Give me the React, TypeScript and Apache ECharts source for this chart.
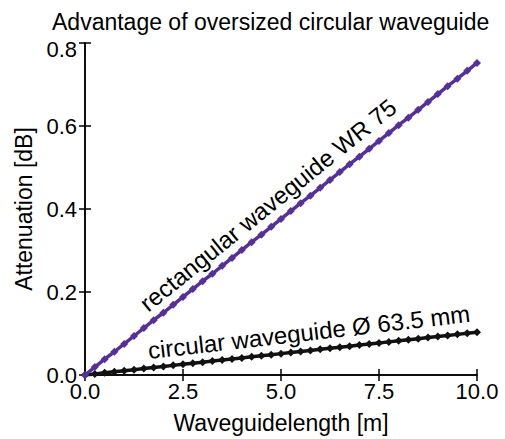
import React, { useEffect, useRef } from "react";
import * as echarts from "echarts";

const lengths = [0, 0.25, 0.5, 0.75, 1, 1.25, 1.5, 1.75, 2, 2.25, 2.5, 2.75, 3, 3.25, 3.5, 3.75, 4, 4.25, 4.5, 4.75, 5, 5.25, 5.5, 5.75, 6, 6.25, 6.5, 6.75, 7, 7.25, 7.5, 7.75, 8, 8.25, 8.5, 8.75, 9, 9.25, 9.5, 9.75, 10];
const rectangularWR75 = [0, 0.019, 0.038, 0.056, 0.075, 0.094, 0.113, 0.132, 0.150, 0.169, 0.188, 0.207, 0.226, 0.244, 0.263, 0.282, 0.301, 0.320, 0.338, 0.357, 0.376, 0.395, 0.414, 0.432, 0.451, 0.470, 0.489, 0.508, 0.526, 0.545, 0.564, 0.583, 0.602, 0.620, 0.639, 0.658, 0.677, 0.696, 0.714, 0.733, 0.752];
const circular635 = [0, 0.0026, 0.0052, 0.0077, 0.0103, 0.0129, 0.0155, 0.0180, 0.0206, 0.0232, 0.0258, 0.0283, 0.0309, 0.0335, 0.0361, 0.0386, 0.0412, 0.0438, 0.0464, 0.0489, 0.0515, 0.0541, 0.0567, 0.0592, 0.0618, 0.0644, 0.0670, 0.0695, 0.0721, 0.0747, 0.0773, 0.0798, 0.0824, 0.0850, 0.0876, 0.0901, 0.0927, 0.0953, 0.0979, 0.1004, 0.1030];

const titleText = "Advantage of oversized circular waveguide";
const xName = "Waveguidelength [m]";
const yName = "Attenuation [dB]";
const rectLabel = "rectangular waveguide WR 75";
const circLabel = "circular waveguide Ø 63.5 mm";

const FONT = "'Liberation Sans', Arial, Helvetica, sans-serif";

export default function App() {
  const ref = useRef<HTMLDivElement>(null);
  useEffect(() => {
    if (!ref.current) return;
    const chart = echarts.init(ref.current, null, { renderer: "svg" });
    const axisLine = { show: true, lineStyle: { color: "#000", width: 1.5 } };
    const tick = { show: true, inside: true, length: 6, lineStyle: { color: "#000", width: 1.5 } };
    chart.setOption({
      animation: false,
      backgroundColor: "#fff",
      textStyle: { fontFamily: FONT },
      title: {
        text: titleText,
        left: 47,
        top: 5,
        textStyle: { fontFamily: FONT, fontSize: 23, fontWeight: "normal", color: "#000" },
      },
      grid: { left: 85, right: 28, top: 43, bottom: 61 },
      xAxis: [
        {
          type: "value",
          min: 0,
          max: 10,
          interval: 2.5,
          name: xName,
          nameLocation: "middle",
          nameGap: 36,
          nameTextStyle: { fontFamily: FONT, fontSize: 23, color: "#000" },
          axisLine,
          axisTick: tick,
          splitLine: { show: false },
          axisLabel: {
            fontFamily: FONT,
            fontSize: 22,
            color: "#000",
            margin: 5,
            formatter: (v: number) => v.toFixed(1),
          },
        },
        {
          type: "value",
          position: "top",
          min: 0,
          max: 10,
          interval: 2.5,
          axisLine,
          axisTick: tick,
          splitLine: { show: false },
          axisLabel: { show: false },
        },
      ],
      yAxis: [
        {
          type: "value",
          min: 0,
          max: 0.8,
          interval: 0.2,
          name: yName,
          nameLocation: "middle",
          nameGap: 48,
          nameTextStyle: { fontFamily: FONT, fontSize: 23, color: "#000" },
          axisLine,
          axisTick: tick,
          splitLine: { show: false },
          axisLabel: {
            fontFamily: FONT,
            fontSize: 22,
            color: "#000",
            margin: 8,
            formatter: (v: number) => (Math.abs(v - 0.8) < 1e-9 ? "{top|0.8}" : v.toFixed(1)),
            rich: { top: { fontFamily: FONT, fontSize: 22, color: "#000", padding: [12, 0, 0, 0] } },
          },
        },
        {
          type: "value",
          position: "right",
          min: 0,
          max: 0.8,
          interval: 0.2,
          axisLine,
          axisTick: tick,
          splitLine: { show: false },
          axisLabel: { show: false },
        },
      ],
      series: [
        {
          type: "line",
          name: rectLabel,
          data: lengths.map((x, i) => [x, rectangularWR75[i]]),
          lineStyle: { color: "#55309a", width: 3.5 },
          itemStyle: { color: "#55309a" },
          symbol: "diamond",
          symbolSize: 8,
          z: 3,
        },
        {
          type: "line",
          name: circLabel,
          data: lengths.map((x, i) => [x, circular635[i]]),
          lineStyle: { color: "#111", width: 3.5 },
          itemStyle: { color: "#111" },
          symbol: "diamond",
          symbolSize: 8,
          z: 2,
        },
      ],
      graphic: [
        {
          type: "text",
          x: 268,
          y: 205,
          rotation: 0.68,
          style: {
            text: rectLabel,
            fontFamily: FONT,
            fontSize: 24,
            fill: "#000",
            align: "center",
            verticalAlign: "middle",
          },
        },
        {
          type: "text",
          x: 309,
          y: 332,
          rotation: 0.115,
          style: {
            text: circLabel,
            fontFamily: FONT,
            fontSize: 24,
            fill: "#000",
            align: "center",
            verticalAlign: "middle",
          },
        },
      ],
    });
    return () => chart.dispose();
  }, []);
  return (
    <div
      ref={ref}
      style={{ position: "absolute", left: 0, top: 0, width: 505, height: 439 }}
    />
  );
}
